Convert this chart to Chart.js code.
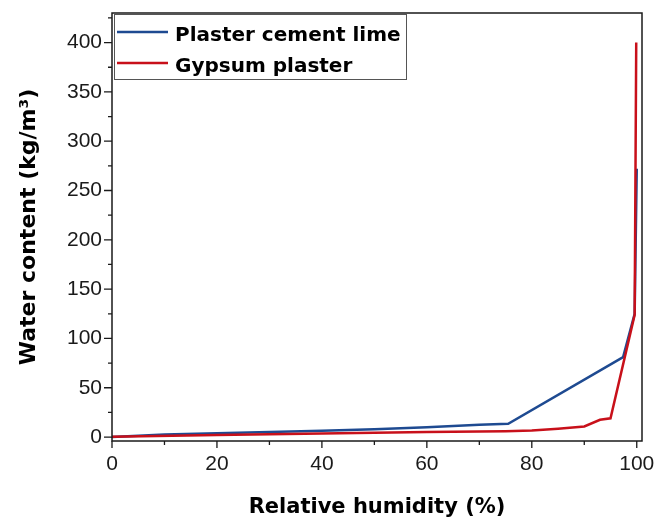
<!DOCTYPE html>
<html>
<head>
<meta charset="utf-8">
<script src="https://cdn.jsdelivr.net/npm/chart.js@4.4.0/dist/chart.umd.min.js"></script>
<style>
html, body { margin: 0; padding: 0; background: #fff; }
#wrap { width: 654px; height: 518px; }
</style>
</head>
<body>
<div id="wrap"><canvas id="chart"></canvas></div>
<script>
// sorption curves
var cementRH    = [0, 10, 20, 30, 40, 50, 60, 70, 75.5, 97.4, 99.6, 100];
var cementWater = [0, 2.5, 3.8, 5, 6.5, 8, 10, 12.5, 13.5, 81, 125, 272];

var gypsumRH    = [0, 20, 40, 60, 75, 80, 85, 90, 93, 95, 99.6, 99.9];
var gypsumWater = [0.3, 2, 3.5, 5, 6, 6.7, 8.5, 10.8, 17.5, 19, 124, 400];

var seriesNames = ["Plaster cement lime", "Gypsum plaster"];

var xMajor = [0, 20, 40, 60, 80, 100];
var xMinor = [10, 30, 50, 70, 90];
var yMajor = [0, 50, 100, 150, 200, 250, 300, 350, 400];
var yMinor = [25, 75, 125, 175, 225, 275, 325, 375, 425];

function toPoints(xs, ys) {
    var pts = [];
    for (var i = 0; i < xs.length; i++) pts.push({x: xs[i], y: ys[i]});
    return pts;
}

var titleFont = "'DejaVu Sans', sans-serif";
var tickFont = "'Liberation Sans', Arial, sans-serif";

// box around the plot + outward ticks (major and minor)
var framePlugin = {
    id: 'frame',
    afterDatasetsDraw: function(chart) {
        var ctx = chart.ctx;
        var a = chart.chartArea;
        var xs = chart.scales.x, ys = chart.scales.y;
        ctx.save();
        ctx.strokeStyle = '#1a1a1a';
        ctx.lineWidth = 1.5;
        ctx.strokeRect(a.left, a.top, a.right - a.left, a.bottom - a.top);
        ctx.lineWidth = 1.3;
        ctx.beginPath();
        xMajor.forEach(function(v) {
            var px = xs.getPixelForValue(v);
            ctx.moveTo(px, a.bottom); ctx.lineTo(px, a.bottom + 7);
        });
        xMinor.forEach(function(v) {
            var px = xs.getPixelForValue(v);
            ctx.moveTo(px, a.bottom); ctx.lineTo(px, a.bottom + 4);
        });
        yMajor.forEach(function(v) {
            var py = ys.getPixelForValue(v);
            ctx.moveTo(a.left - 8, py); ctx.lineTo(a.left, py);
        });
        yMinor.forEach(function(v) {
            var py = ys.getPixelForValue(v);
            if (py < a.top) return;
            ctx.moveTo(a.left - 4, py); ctx.lineTo(a.left, py);
        });
        ctx.stroke();
        ctx.restore();
    }
};

// legend box in the upper left corner of the plot
var legendPlugin = {
    id: 'boxLegend',
    afterDraw: function(chart) {
        var ctx = chart.ctx;
        var ds = chart.data.datasets;
        ctx.save();
        ctx.fillStyle = '#fff';
        ctx.fillRect(114, 14, 292, 65);
        ctx.strokeStyle = '#555';
        ctx.lineWidth = 1;
        ctx.strokeRect(114.5, 14.5, 292, 65);
        ctx.font = "bold 20px " + titleFont;
        ctx.textBaseline = 'alphabetic';
        ctx.textAlign = 'left';
        var rows = [32, 63];
        for (var i = 0; i < ds.length; i++) {
            ctx.strokeStyle = ds[i].borderColor;
            ctx.lineWidth = 2.5;
            ctx.beginPath();
            ctx.moveTo(117, rows[i]);
            ctx.lineTo(168, rows[i]);
            ctx.stroke();
            ctx.fillStyle = '#000';
            ctx.fillText(ds[i].label, 175, rows[i] + 8.5);
        }
        ctx.restore();
    }
};

var ctx = document.getElementById("chart").getContext("2d");
var chart = new Chart(ctx, {
    type: 'scatter',
    data: {
        datasets: [{
            label: seriesNames[0],
            data: toPoints(cementRH, cementWater),
            showLine: true,
            borderColor: 'rgb(30, 74, 145)',
            backgroundColor: 'rgb(30, 74, 145)',
            borderWidth: 2.5,
            pointRadius: 0,
            tension: 0,
            order: 2
        }, {
            label: seriesNames[1],
            data: toPoints(gypsumRH, gypsumWater),
            showLine: true,
            borderColor: 'rgb(200, 16, 26)',
            backgroundColor: 'rgb(200, 16, 26)',
            borderWidth: 2.5,
            pointRadius: 0,
            tension: 0,
            order: 1
        }]
    },
    options: {
        responsive: true,
        maintainAspectRatio: false,
        animation: false,
        layout: { padding: { top: 13, right: 12, left: 0, bottom: 0 } },
        plugins: {
            legend: { display: false },
            tooltip: { enabled: false }
        },
        scales: {
            x: {
                type: 'linear',
                min: 0,
                max: 101,
                grid: { display: false, drawTicks: false },
                border: { display: false },
                ticks: {
                    stepSize: 20,
                    includeBounds: false,
                    maxRotation: 0,
                    padding: 11,
                    color: '#1a1a1a',
                    font: { family: tickFont, size: 21 }
                },
                title: {
                    display: true,
                    text: 'Relative humidity (%)',
                    color: '#000',
                    padding: { top: 0, bottom: 0 },
                    font: { family: titleFont, size: 21, weight: 'bold', lineHeight: 1 }
                },
                afterFit: function(s) { s.height = 77; s.paddingLeft = 0; s.paddingRight = 0; }
            },
            y: {
                type: 'linear',
                min: -4,
                max: 430,
                grid: { display: false, drawTicks: false },
                border: { display: false },
                ticks: {
                    stepSize: 50,
                    includeBounds: false,
                    padding: 10,
                    color: '#1a1a1a',
                    font: { family: tickFont, size: 21 }
                },
                title: {
                    display: true,
                    text: 'Water content (kg/m³)',
                    color: '#000',
                    padding: { top: 18, bottom: 0 },
                    font: { family: titleFont, size: 22, weight: 'bold', lineHeight: 1 }
                },
                afterFit: function(s) { s.width = 112; s.paddingTop = 0; s.paddingBottom = 0; }
            }
        }
    },
    plugins: [framePlugin, legendPlugin]
});
</script>
</body>
</html>
